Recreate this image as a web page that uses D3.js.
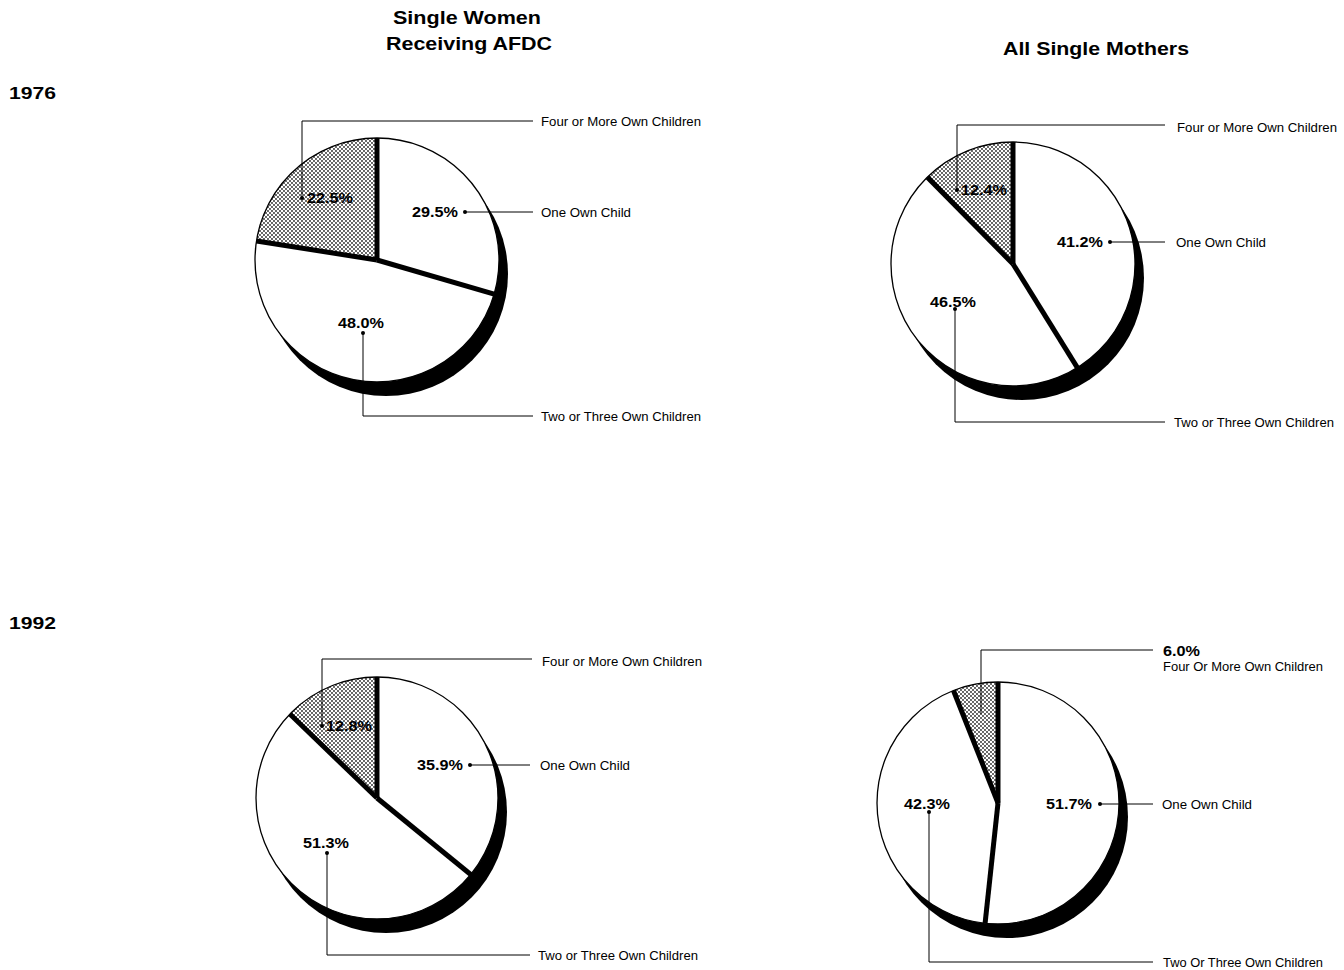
<!DOCTYPE html>
<html>
<head>
<meta charset="utf-8">
<script src="https://cdn.jsdelivr.net/npm/d3@7"></script>
<style>
  body { margin: 0; background: #fff; }
  svg { display: block; }
  text { font-family: "Liberation Sans", Arial, Helvetica, sans-serif; fill: #000; }
</style>
</head>
<body>
<svg id="chart" width="1344" height="970"></svg>
<script>
// ---------------- DATA ----------------
const years = ["1976", "1992"];
const groups = ["Single Women\nReceiving AFDC", "All Single Mothers"];
const categories = ["One Own Child", "Two or Three Own Children", "Four or More Own Children"];
const categoriesCapitalized = ["One Own Child", "Two Or Three Own Children", "Four Or More Own Children"];
const afdc1976 = [29.5, 48.0, 22.5];
const allMothers1976 = [41.2, 46.5, 12.4];
const afdc1992 = [35.9, 51.3, 12.8];
const allMothers1992 = [51.7, 42.3, 6.0];

// ---------------- LAYOUT ----------------
const svg = d3.select("#chart");

const defs = svg.append("defs");
const pat = defs.append("pattern")
  .attr("id", "dots").attr("patternUnits", "userSpaceOnUse")
  .attr("width", 4).attr("height", 4);
pat.append("rect").attr("width", 4).attr("height", 4).attr("fill", "#fff");
pat.append("circle").attr("cx", 1).attr("cy", 1).attr("r", 0.9).attr("fill", "#222");
pat.append("circle").attr("cx", 3).attr("cy", 3).attr("r", 0.9).attr("fill", "#222");

// Titles
const titleFont = 18;
svg.append("text").attr("x", 467).attr("y", 24).attr("text-anchor", "middle")
  .attr("font-weight", "bold").attr("font-size", titleFont)
  .attr("textLength", 148).attr("lengthAdjust", "spacingAndGlyphs")
  .text(groups[0].split("\n")[0]);
svg.append("text").attr("x", 469).attr("y", 50).attr("text-anchor", "middle")
  .attr("font-weight", "bold").attr("font-size", titleFont)
  .attr("textLength", 166).attr("lengthAdjust", "spacingAndGlyphs")
  .text(groups[0].split("\n")[1]);
svg.append("text").attr("x", 1096).attr("y", 55).attr("text-anchor", "middle")
  .attr("font-weight", "bold").attr("font-size", titleFont)
  .attr("textLength", 186).attr("lengthAdjust", "spacingAndGlyphs")
  .text(groups[1]);

// Year labels
[[years[0], 99], [years[1], 629]].forEach(([t, y]) => {
  svg.append("text").attr("x", 9).attr("y", y)
    .attr("font-weight", "bold").attr("font-size", 17)
    .attr("textLength", 47).attr("lengthAdjust", "spacingAndGlyphs")
    .text(t);
});

// Pie configs (layout only)
const pies = [
  { values: afdc1976, names: categories, cx: 377, cy: 260, r: 122,
    labels: [
      { pctX: 412, pctY: 217, dot: [465, 212], path: [[465, 212], [533, 212]], textX: 541, textY: 217 },
      { pctX: 338, pctY: 328, dot: [363, 333], path: [[363, 333], [363, 416], [533, 416]], textX: 541, textY: 421 },
      { pctX: 307, pctY: 203, dot: [302, 198], path: [[302, 198], [302, 121], [533, 121]], textX: 541, textY: 126 }
    ] },
  { values: allMothers1976, names: categories, cx: 1013, cy: 264, r: 122,
    labels: [
      { pctX: 1057, pctY: 247, dot: [1110, 242], path: [[1110, 242], [1165, 242]], textX: 1176, textY: 247 },
      { pctX: 930, pctY: 307, dot: [955, 309], path: [[955, 309], [955, 422], [1165, 422]], textX: 1174, textY: 427 },
      { pctX: 961, pctY: 195, dot: [957, 190], path: [[957, 190], [957, 125], [1165, 125]], textX: 1177, textY: 132 }
    ] },
  { values: afdc1992, names: categories, cx: 377, cy: 798, r: 121,
    labels: [
      { pctX: 417, pctY: 770, dot: [470, 765], path: [[470, 765], [530, 765]], textX: 540, textY: 770 },
      { pctX: 303, pctY: 848, dot: [327, 853], path: [[327, 853], [327, 955], [530, 955]], textX: 538, textY: 960 },
      { pctX: 326, pctY: 731, dot: [322, 726], path: [[322, 726], [322, 659], [532, 659]], textX: 542, textY: 666 }
    ] },
  { values: allMothers1992, names: categoriesCapitalized, cx: 998, cy: 803, r: 121,
    labels: [
      { pctX: 1046, pctY: 809, dot: [1100, 804], path: [[1100, 804], [1153, 804]], textX: 1162, textY: 809 },
      { pctX: 904, pctY: 809, dot: [929, 812], path: [[929, 812], [929, 962], [1153, 962]], textX: 1163, textY: 967 },
      { pctX: 1163, pctY: 656, outside: true, dot: null, path: [[981, 714], [981, 650], [1153, 650]], textX: 1163, textY: 671 }
    ] }
];

const fills = ["#fff", "#fff", "url(#dots)"];
const pie = d3.pie().sort(null).value(d => d);
const shadowDx = 9, shadowDy = 14;

pies.forEach(p => {
  const g = svg.append("g").attr("transform", `translate(${p.cx},${p.cy})`);
  const arcs = pie(p.values);
  const arc = d3.arc().innerRadius(0).outerRadius(p.r);

  // drop shadow
  g.append("circle").attr("cx", shadowDx).attr("cy", shadowDy).attr("r", p.r).attr("fill", "#000");

  // slices
  g.selectAll("path.slice").data(arcs).join("path")
    .attr("class", "slice")
    .attr("d", arc)
    .attr("fill", (d, i) => fills[i])
    .attr("stroke", "none");

  // outline
  g.append("circle").attr("r", p.r).attr("fill", "none").attr("stroke", "#000").attr("stroke-width", 1.3);

  // thick separators
  arcs.forEach(a => {
    const ang = a.startAngle;
    g.append("line")
      .attr("x1", 0).attr("y1", 0)
      .attr("x2", p.r * Math.sin(ang)).attr("y2", -p.r * Math.cos(ang))
      .attr("stroke", "#000").attr("stroke-width", 5).attr("stroke-linecap", "butt");
  });

  // labels
  const line = d3.line();
  arcs.forEach((a, i) => {
    const L = p.labels[i];
    svg.append("path").attr("d", line(L.path)).attr("fill", "none")
      .attr("stroke", "#000").attr("stroke-width", 1);
    if (L.dot) {
      svg.append("circle").attr("cx", L.dot[0]).attr("cy", L.dot[1]).attr("r", 2).attr("fill", "#000");
    }
    svg.append("text").attr("x", L.pctX).attr("y", L.pctY)
      .attr("font-weight", "bold").attr("font-size", 14)
      .attr("textLength", L.outside ? 37 : 46).attr("lengthAdjust", "spacingAndGlyphs")
      .text(d3.format(".1f")(a.data) + "%");
    const name = p.names[i];
    svg.append("text").attr("x", L.textX).attr("y", L.textY)
      .attr("font-size", 12)
      .attr("textLength", name.length > 15 ? 160 : 90).attr("lengthAdjust", "spacingAndGlyphs")
      .text(name);
  });
});
</script>
</body>
</html>
